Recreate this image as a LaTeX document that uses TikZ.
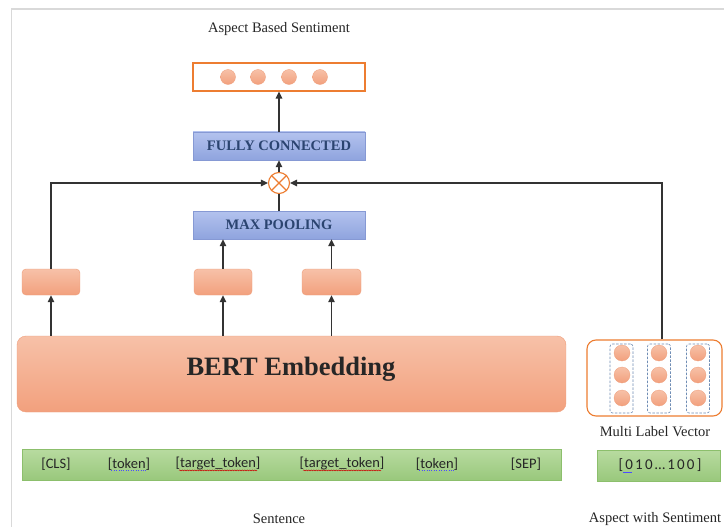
\documentclass[tikz,border=0pt]{standalone}
\usepackage{fontspec}
\setmainfont{Liberation Serif}
\newfontfamily\tokfont{Carlito}
\usetikzlibrary{arrows.meta,decorations.pathmorphing}
\definecolor{salmA}{HTML}{F7C1A8}
\definecolor{salmB}{HTML}{F2A07D}
\definecolor{salmD}{HTML}{EF9E7B}
\definecolor{orng}{HTML}{ED7D31}
\definecolor{bluA}{HTML}{B3C2EE}
\definecolor{bluB}{HTML}{8FA4DE}
\definecolor{bluD}{HTML}{8699D4}
\definecolor{navy}{HTML}{2B4470}
\definecolor{grnA}{HTML}{B8DBA0}
\definecolor{grnB}{HTML}{99C87C}
\definecolor{grnD}{HTML}{8CBF6C}
\definecolor{dashc}{HTML}{6F8DB5}
\definecolor{linec}{HTML}{333333}
\tikzset{
  salmbox/.style={rounded corners=4pt, top color=salmA, bottom color=salmB, draw=salmD, line width=0.4pt, inner sep=0pt},
  blubox/.style={top color=bluA, bottom color=bluB, draw=bluD, line width=0.4pt, minimum width=172pt, minimum height=28pt, font=\bfseries\fontsize{14.5}{16}\selectfont, text=navy, inner sep=0pt},
  grnbox/.style={top color=grnA, bottom color=grnB, draw=grnD, line width=0.4pt, inner sep=0pt},
  ball/.style={circle, minimum size=15pt, inner sep=0pt, top color=salmA, bottom color=salmB, draw=salmD, line width=0.3pt},
  dcol/.style={draw=dashc, dashed, dash pattern=on 2.5pt off 1.5pt, rounded corners=2.5pt, line width=0.6pt, minimum width=23pt, minimum height=69pt, inner sep=0pt},
  lbl/.style={font=\fontsize{14.5}{16}\selectfont, text=black!85, inner sep=0pt},
  tok/.style={font=\tokfont\fontsize{14.5}{16}\selectfont, text=black!85, inner sep=0pt},
  arr/.style={draw=linec, line width=1.2pt, -{Triangle[length=7pt,width=6.5pt]}},
  ln/.style={draw=linec, line width=1.2pt},
}
\begin{document}
\begin{tikzpicture}[x=1pt,y=-1pt]
\useasboundingbox (0,0) rectangle (724,527);
\fill[white] (0,0) rectangle (724,527);
\draw[black!15, line width=1.2pt] (11.5,527) -- (11.5,9) -- (724,9);

% title and output
\node[lbl] (title) at (279,29) {Aspect Based Sentiment};
\node[draw=orng, line width=1.1pt, fill=white, minimum width=172pt, minimum height=28pt, inner sep=0pt] (out) at (279,77) {};
\node[ball] (o1) at (228,77) {};
\node[ball] (o2) at (258,77) {};
\node[ball] (o3) at (289,77) {};
\node[ball] (o4) at (320,77) {};

\node[blubox] (fc) at (279,146) {FULLY CONNECTED};
\node[circle, draw=orng, line width=1.1pt, fill=white, minimum size=21pt, inner sep=0pt] (ot) at (279,183) {};
\draw[orng, line width=1.1pt] (ot.north west) -- (ot.south east) (ot.north east) -- (ot.south west);
\node[blubox] (mp) at (279,225) {MAX POOLING};

% small boxes
\node[salmbox, minimum width=58pt, minimum height=26pt] (s1) at (51,282) {};
\node[salmbox, minimum width=58pt, minimum height=26pt] (s2) at (223,282) {};
\node[salmbox, minimum width=59pt, minimum height=26pt] (s3) at (331.5,282) {};

% BERT
\node[salmbox, rounded corners=9pt, minimum width=549pt, minimum height=76pt] (bert) at (291.5,374) {};
\node[font=\bfseries\fontsize{26.5}{30}\selectfont, text=black!85, inner sep=0pt] (bt) at (291,369) {BERT Embedding};

% token bar
\node[grnbox, minimum width=539pt, minimum height=31pt] (bar) at (291.5,464.5) {};
\node[tok] (t1) at (56,464) {[CLS]};
\node[tok] (t2) at (129,464) {[token]};
\node[tok] (t3) at (218,464) {[target\_token]};
\node[tok] (t4) at (342,464) {[target\_token]};
\node[tok] (t5) at (437,464) {[token]};
\node[tok] (t6) at (526,464) {[SEP]};
\draw[red!80!black, line width=0.45pt, decorate, decoration={snake, amplitude=0.5pt, segment length=2.5pt}] ([xshift=3.5pt,yshift=-2.4pt]t3.base west) -- ([xshift=-3.5pt,yshift=-2.4pt]t3.base east);
\draw[red!80!black, line width=0.45pt, decorate, decoration={snake, amplitude=0.5pt, segment length=2.5pt}] ([xshift=3.5pt,yshift=-2.4pt]t4.base west) -- ([xshift=-3.5pt,yshift=-2.4pt]t4.base east);
\draw[blue!70, line width=0.45pt, dotted] ([xshift=3.5pt,yshift=-2.4pt]t2.base west) -- ([xshift=-3.5pt,yshift=-2.4pt]t2.base east);
\draw[blue!70, line width=0.45pt, dotted] ([xshift=3.5pt,yshift=-2.4pt]t5.base west) -- ([xshift=-3.5pt,yshift=-2.4pt]t5.base east);
\node[lbl] (sent) at (279,519) {Sentence};

% multi label vector
\node[draw=orng, line width=1.1pt, fill=white, rounded corners=9pt, minimum width=135pt, minimum height=76pt, inner sep=0pt] (ml) at (654.5,378) {};
\node[dcol] (c1) at (621.5,378.5) {};
\node[dcol] (c2) at (659,378.5) {};
\node[dcol] (c3) at (698,378.5) {};
\foreach \cx/\cn in {622/a,659/b,698/c}{
  \node[ball, minimum size=16pt] (m\cn1) at (\cx,353) {};
  \node[ball, minimum size=16pt] (m\cn2) at (\cx,375) {};
  \node[ball, minimum size=16pt] (m\cn3) at (\cx,398) {};
}
\node[lbl] (mlv) at (655,432) {Multi Label Vector};
\node[grnbox, minimum width=123pt, minimum height=31pt] (vec) at (658.5,465.5) {};
\node[tok, font=\tokfont\fontsize{15}{17}\selectfont] (vt) at (660,465) {[\hspace{2.2pt}0\hspace{2.2pt}1\hspace{2.2pt}0\hspace{2.2pt}…\hspace{2.2pt}1\hspace{2.2pt}0\hspace{2.2pt}0\hspace{2.2pt}]};
\draw[blue!70, line width=0.6pt] ([xshift=5pt,yshift=-2.6pt]vt.base west) -- ([xshift=14pt,yshift=-2.6pt]vt.base west);
\node[lbl] (aws) at (655,519) {Aspect with Sentiment};

% connectors
\draw[arr] (s1.south |- bert.north) -- (s1.south);
\draw[arr] (s2.south |- bert.north) -- (s2.south);
\draw[arr] (s3.south |- bert.north) -- (s3.south);
\draw[arr] (s2.north) -- (s2.north |- mp.south);
\draw[arr] (s3.north) -- (s3.north |- mp.south);
\draw[ln] (mp.north) -- (ot.south);
\draw[arr] (s1.north) |- (ot.west);
\coordinate (mltop) at ([xshift=7.5pt]ml.north);
\draw[arr] (mltop) |- (ot.east);
\draw[arr] (ot.north) -- (fc.south);
\draw[arr] (fc.north) -- (out.south);
\end{tikzpicture}
\end{document}
